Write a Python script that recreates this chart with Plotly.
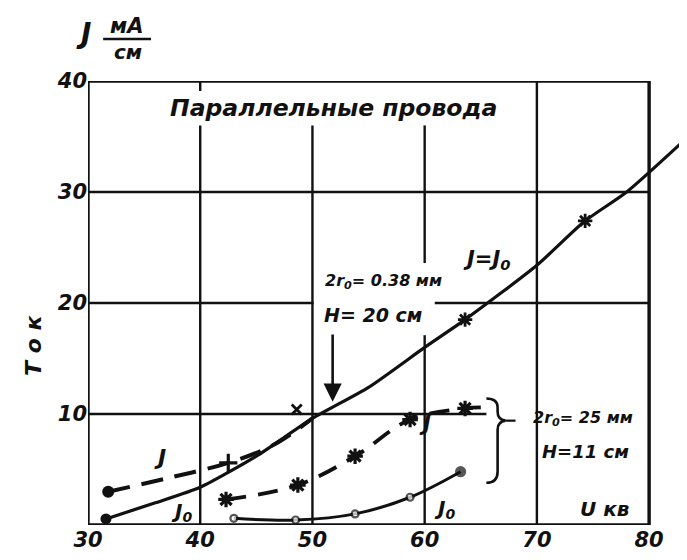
import plotly.graph_objects as go

# ---- data ----
x_ticks = [30, 40, 50, 60, 70, 80]
y_ticks = [10, 20, 30, 40]

# thin wires 2r0 = 0.38 mm, H = 20 cm
thin_J_x = [31.8, 37.0, 42.5, 46.5, 50.0]
thin_J_y = [3.0, 4.2, 5.6, 7.2, 9.6]
thin_J0_x = [31.6, 36.0, 40.0, 45.0, 50.0, 55.0, 60.0, 63.6, 70.0, 74.3, 78.0, 83.5]
thin_J0_y = [0.55, 2.0, 3.4, 6.2, 9.6, 12.4, 16.0, 18.5, 23.4, 27.4, 30.0, 35.0]
thin_star_x = [63.6, 74.3, 83.5]
thin_star_y = [18.5, 27.4, 35.0]
cross_x = [48.6]
cross_y = [10.4]

# thick wires 2r0 = 25 mm, H = 11 cm
thick_J_x = [42.3, 48.7, 53.8, 58.7, 63.6, 65.4]
thick_J_y = [2.3, 3.6, 6.2, 9.5, 10.5, 10.6]
thick_J_mark_x = [42.3, 48.7, 53.8, 58.7, 63.6]
thick_J_mark_y = [2.3, 3.6, 6.2, 9.5, 10.5]
thick_J0_x = [43.0, 48.5, 53.8, 58.7, 63.2]
thick_J0_y = [0.6, 0.45, 1.0, 2.5, 4.8]

INK = "#111111"
FONT = "DejaVu Sans"

fig = go.Figure()

# J = J0 curve (solid)
fig.add_trace(go.Scatter(x=thin_J0_x, y=thin_J0_y, mode="lines",
                         line=dict(color=INK, width=3.2, shape="spline", smoothing=0.6),
                         hoverinfo="skip", showlegend=False))
fig.add_trace(go.Scatter(x=[thin_J0_x[0]], y=[thin_J0_y[0]], mode="markers",
                         marker=dict(color=INK, size=11), cliponaxis=False, showlegend=False))
fig.add_trace(go.Scatter(x=thin_star_x, y=thin_star_y, mode="markers",
                         marker=dict(color=INK, size=12, symbol="asterisk-open",
                                     line=dict(color=INK, width=2.8)),
                         cliponaxis=False, showlegend=False))
fig.add_trace(go.Scatter(x=cross_x, y=cross_y, mode="markers",
                         marker=dict(color=INK, size=10, symbol="x-thin-open",
                                     line=dict(color=INK, width=2.8)),
                         cliponaxis=False, showlegend=False))

# thin J (dashed)
fig.add_trace(go.Scatter(x=thin_J_x, y=thin_J_y, mode="lines",
                         line=dict(color=INK, width=4, dash="22px,12px", shape="spline"),
                         showlegend=False))
fig.add_trace(go.Scatter(x=[thin_J_x[0]], y=[thin_J_y[0]], mode="markers",
                         marker=dict(color=INK, size=12), cliponaxis=False, showlegend=False))
fig.add_trace(go.Scatter(x=[thin_J_x[2]], y=[thin_J_y[2]], mode="markers",
                         marker=dict(color=INK, size=13, symbol="cross-thin-open",
                                     line=dict(color=INK, width=3.2)),
                         cliponaxis=False, showlegend=False))

# thick J (dashed)
fig.add_trace(go.Scatter(x=thick_J_x, y=thick_J_y, mode="lines",
                         line=dict(color=INK, width=3.8, dash="20px,12px", shape="spline"),
                         showlegend=False))
fig.add_trace(go.Scatter(x=thick_J_mark_x, y=thick_J_mark_y, mode="markers",
                         marker=dict(color=INK, size=13, symbol="asterisk-open",
                                     line=dict(color=INK, width=3.2)),
                         cliponaxis=False, showlegend=False))

# thick J0 (solid, open circles, last point filled)
fig.add_trace(go.Scatter(x=thick_J0_x, y=thick_J0_y, mode="lines+markers",
                         line=dict(color=INK, width=3, shape="spline"),
                         marker=dict(color=["white"] * (len(thick_J0_x) - 1) + [INK],
                                     size=[7] * (len(thick_J0_x) - 1) + [9], symbol="circle",
                                     line=dict(color=INK, width=2.2)),
                         cliponaxis=False, showlegend=False))


def seg(x0, x1, y0, y1, w=2.4):
    return dict(type="line", xref="x", yref="y", x0=x0, x1=x1, y0=y0, y1=y1,
                line=dict(color=INK, width=w))


# frame
shapes = [dict(type="rect", xref="x", yref="y", x0=30, x1=80, y0=0, y1=40,
               line=dict(color=INK, width=3.4))]
# vertical grid (hand-drawn: broken round the title and round the labels)
shapes += [seg(40, 40, 0, 36.0), seg(40, 40, 39.1, 40),
           seg(50, 50, 0, 36.0),
           seg(60, 60, 0, 17.1), seg(60, 60, 23.6, 36.0),
           seg(70, 70, 0, 40)]
# horizontal grid
shapes += [seg(30, 65.5, 10, 10),
           seg(30, 50.1, 20, 20), seg(60.9, 80, 20, 20),
           seg(30, 80, 30, 30)]
# bracket for the thick-wire pair
shapes.append(dict(type="path", xref="x", yref="y",
                   path="M 65.5,11.4 Q 66.5,11.4 66.5,10.6 L 66.5,10.2 Q 66.5,9.5 67.2,9.4 "
                        "Q 66.5,9.3 66.5,8.6 L 66.5,4.8 Q 66.5,3.8 65.5,3.8",
                   line=dict(color=INK, width=2.6)))
shapes.append(seg(67.2, 68.1, 9.4, 9.4, 2.2))
# fraction bar for unit label
shapes.append(dict(type="line", xref="paper", yref="paper", x0=0.025, x1=0.104,
                   y0=1.0946, y1=1.0946, line=dict(color=INK, width=2.6)))


def txt(x, y, t, size=15, xref="x", yref="y", **kw):
    return dict(x=x, y=y, xref=xref, yref=yref, text=t, showarrow=False,
                xanchor="center", yanchor="middle",
                font=dict(family=FONT, size=size, color=INK, weight="bold", style="italic"),
                **kw)


annotations = [
    txt(51.9, 37.6, "Параллельные провода", 23.5),
    txt(36.4, 6.1, "J", 22),
    txt(38.3, 1.2, "J<sub>0</sub>", 20),
    txt(61.8, 1.4, "J<sub>0</sub>", 20),
    txt(60.0, 9.1, "J", 21),
    txt(65.5, 23.9, "J=J<sub>0</sub>", 21),
    txt(56.3, 21.9, "2r<sub>0</sub>= 0.38 мм", 16),
    txt(55.4, 18.9, "H= 20 см", 19),
    txt(74.1, 9.6, "2r<sub>0</sub>= 25 мм", 16),
    txt(74.3, 6.6, "H=11 см", 18),
    txt(76.0, 1.4, "U кв", 20),
    dict(x=51.8, y=11.1, ax=51.8, ay=17.3, xref="x", yref="y", axref="x", ayref="y",
         showarrow=True, arrowhead=2, arrowsize=1.4, arrowwidth=2.6, arrowcolor=INK, text=""),
    txt(-0.008, 1.106, "J", 28, xref="paper", yref="paper"),
    txt(0.064, 1.124, "мА", 21, xref="paper", yref="paper"),
    txt(0.066, 1.066, "см", 20, xref="paper", yref="paper"),
    txt(-0.091, 0.405, "Т о к", 22, xref="paper", yref="paper", textangle=-90),
]

tick_font = dict(family=FONT, size=21, color=INK, weight="bold", style="italic")

fig.update_layout(
    width=687, height=560,
    margin=dict(l=80, r=1, t=73, b=43),
    paper_bgcolor="white", plot_bgcolor="white",
    shapes=shapes, annotations=annotations,
    xaxis=dict(range=[30, 84], tickvals=x_ticks, ticktext=[str(v) for v in x_ticks],
               showgrid=False, zeroline=False, showline=False, ticks="",
               tickfont=tick_font),
    yaxis=dict(range=[0, 40], tickvals=y_ticks, ticktext=[str(v) for v in y_ticks],
               showgrid=False, zeroline=False, showline=False, ticks="",
               tickfont=tick_font),
)

fig.write_html("out.html")
